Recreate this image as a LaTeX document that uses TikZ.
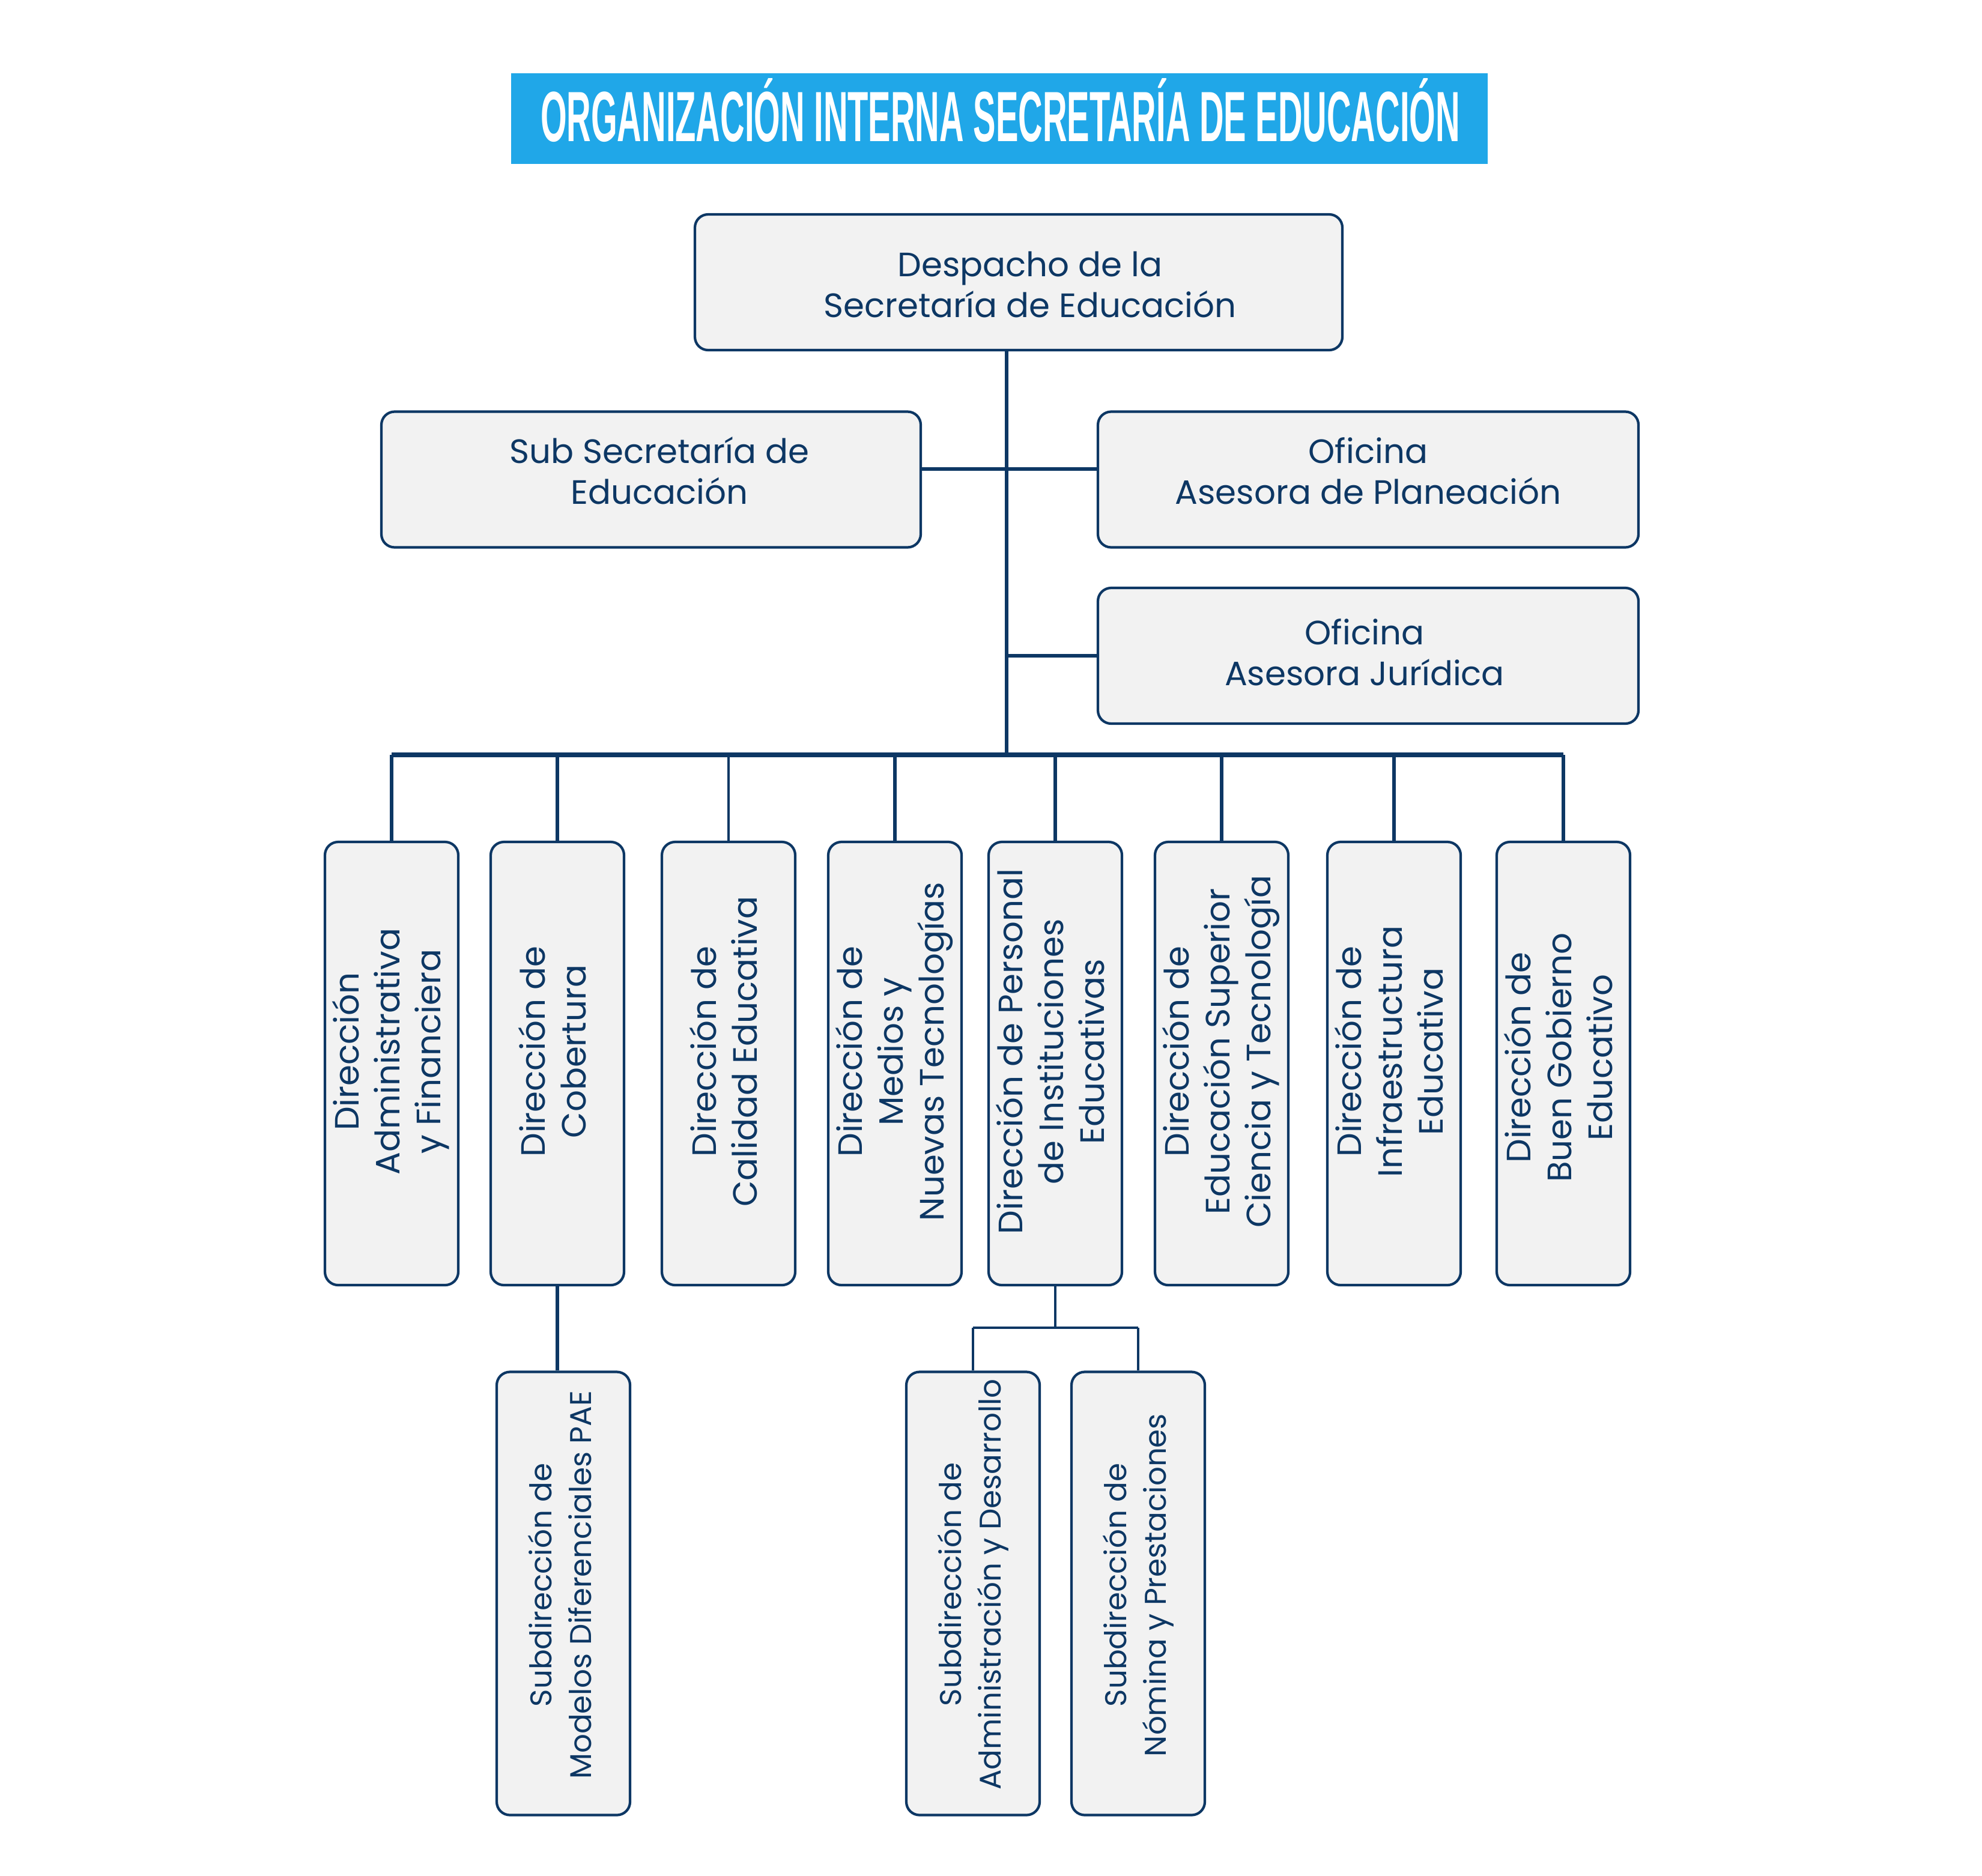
\documentclass[tikz,border=0pt]{standalone}
\usepackage{fontspec}
\usepackage{graphicx}
\usepackage{xcolor}
\newfontfamily\poppins{Poppins}
\newfontfamily\titulofont{Liberation Sans}
\definecolor{azulmarino}{RGB}{13,55,100}
\definecolor{azultitulo}{RGB}{32,167,232}
\definecolor{grisfondo}{RGB}{242,242,242}
\newcommand{\lineas}[2][0.4cm]{\hspace{#1}\begin{tabular}{@{}c@{}}#2\end{tabular}}
\newcommand{\lineash}[3]{\hspace{#1}\raisebox{#2}[\height][\depth]{\begin{tabular}{@{}c@{}}#3\end{tabular}}}
\tikzset{
	caja/.style={
			draw=azulmarino, fill=grisfondo, line width=1.2pt,
			rounded corners=0.22cm, text=azulmarino, inner sep=0pt,
			font=\poppins\fontsize{16pt}{19.4pt}\selectfont
		},
	cajah/.style={caja, minimum width=#1, minimum height=2.26cm},
	cajav/.style={caja, rotate=90, minimum width=7.38cm, minimum height=2.22cm},
	cajasub/.style={cajav, font=\poppins\fontsize{14.2pt}{18.7pt}\selectfont},
	linea/.style={draw=azulmarino, line width=1.7pt}
}

\begin{document}
\begin{tikzpicture}
        \path[fill=white] (0, 0) rectangle (33, -31.23);
        \useasboundingbox (0, 0) rectangle (33, -31.23);
        \node[fill=azultitulo, minimum width=16.26cm, minimum height=1.51cm, inner sep=0pt] (titulo) at (16.64, -1.975) {};
        \node[anchor=base, inner sep=0pt, text=white] (titulo_texto) at (16.655, -2.35) {\resizebox{15.31cm}{1.05cm}{\titulofont\bfseries ORGANIZACIÓN INTERNA SECRETARÍA DE EDUCACIÓN}};
        \node[cajah=10.78cm] (despacho) at (16.96, -4.70) {\lineash{0.38cm}{-0.105cm}{Despacho de la\\Secretaría de Educación}};
        \node[cajah=8.98cm] (sub) at (10.84, -7.985) {\lineash{0.28cm}{0.065cm}{Sub Secretaría de\\Educación}};
        \node[cajah=9.00cm] (plan) at (22.78, -7.985) {\lineash{0cm}{0.065cm}{Oficina\\Asesora de Planeación}};
        \node[cajah=9.00cm] (juridica) at (22.78, -10.92) {\lineash{-0.12cm}{-0.015cm}{Oficina\\Asesora Jurídica}};
        \coordinate (bus_c) at (16.76, -12.57);
        \coordinate (rama_sub) at (16.76, -7.81);
        \coordinate (bus_1) at (6.52, -12.57);
        \coordinate (bus_2) at (9.28, -12.57);
        \coordinate (bus_3) at (12.13, -12.57);
        \coordinate (bus_4) at (14.90, -12.57);
        \coordinate (bus_5) at (17.57, -12.57);
        \coordinate (bus_6) at (20.34, -12.57);
        \coordinate (bus_7) at (23.21, -12.57);
        \coordinate (bus_8) at (26.03, -12.57);
        \node[cajav] (dir_1) at (6.52, -17.71) {\lineas{Dirección\\Administrativa\\y Financiera}};
        \node[cajav] (dir_2) at (9.28, -17.71) {\lineas{Dirección de\\Cobertura}};
        \node[cajav] (dir_3) at (12.13, -17.71) {\lineas{Dirección de\\Calidad Educativa}};
        \node[cajav] (dir_4) at (14.90, -17.71) {\lineas{Dirección de\\Medios y\\Nuevas Tecnologías}};
        \node[cajav] (dir_5) at (17.57, -17.71) {\lineas{Dirección de Personal\\de Instituciones\\Educativas}};
        \node[cajav] (dir_6) at (20.34, -17.71) {\lineas{Dirección de\\Educación Superior\\Ciencia y Tecnología}};
        \node[cajav] (dir_7) at (23.21, -17.71) {\lineas{Dirección de\\Infraestructura\\Educativa}};
        \node[cajav] (dir_8) at (26.03, -17.71) {\lineas[0.2cm]{Dirección de\\Buen Gobierno\\Educativo}};
        \node[cajasub] (sub_pae) at (9.38, -26.535) {\lineas[0.28cm]{Subdirección de\\Modelos Diferenciales PAE}};
        \node[cajasub] (sub_admin) at (16.20, -26.535) {\lineas[0.3cm]{Subdirección de\\Administración y Desarrollo}};
        \node[cajasub] (sub_nomina) at (18.95, -26.535) {\lineas[0.28cm]{Subdirección de\\Nómina y Prestaciones}};
        \coordinate (rama_personal) at (17.57, -22.11);
        \draw[linea] (despacho.south -| bus_c) -- (bus_c);
        \draw[linea] (rama_sub -| sub.east) -- (rama_sub -| plan.west);
        \draw[linea] (juridica.west -| bus_c) -- (juridica.west);
        \draw[linea, line width=2.2pt] (bus_1) -- (bus_8);
        \draw[linea] (bus_1) -- (dir_1);
        \draw[linea] (bus_2) -- (dir_2);
        \draw[linea, line width=1.1pt] (bus_3) -- (dir_3);
        \draw[linea] (bus_4) -- (dir_4);
        \draw[linea] (bus_5) -- (dir_5);
        \draw[linea] (bus_6) -- (dir_6);
        \draw[linea] (bus_7) -- (dir_7);
        \draw[linea] (bus_8) -- (dir_8);
        \draw[linea] (dir_2.west) -- (dir_2.west |- sub_pae.east);
        \draw[linea, line width=1.3pt] (dir_5.west) -- (rama_personal);
        \draw[linea, line width=1.3pt] (rama_personal -| sub_admin) -- (rama_personal -| sub_nomina);
        \draw[linea, line width=1.3pt] (rama_personal -| sub_admin) -- (sub_admin.east);
        \draw[linea, line width=1.3pt] (rama_personal -| sub_nomina) -- (sub_nomina.east);
    \end{tikzpicture}
\end{document}
